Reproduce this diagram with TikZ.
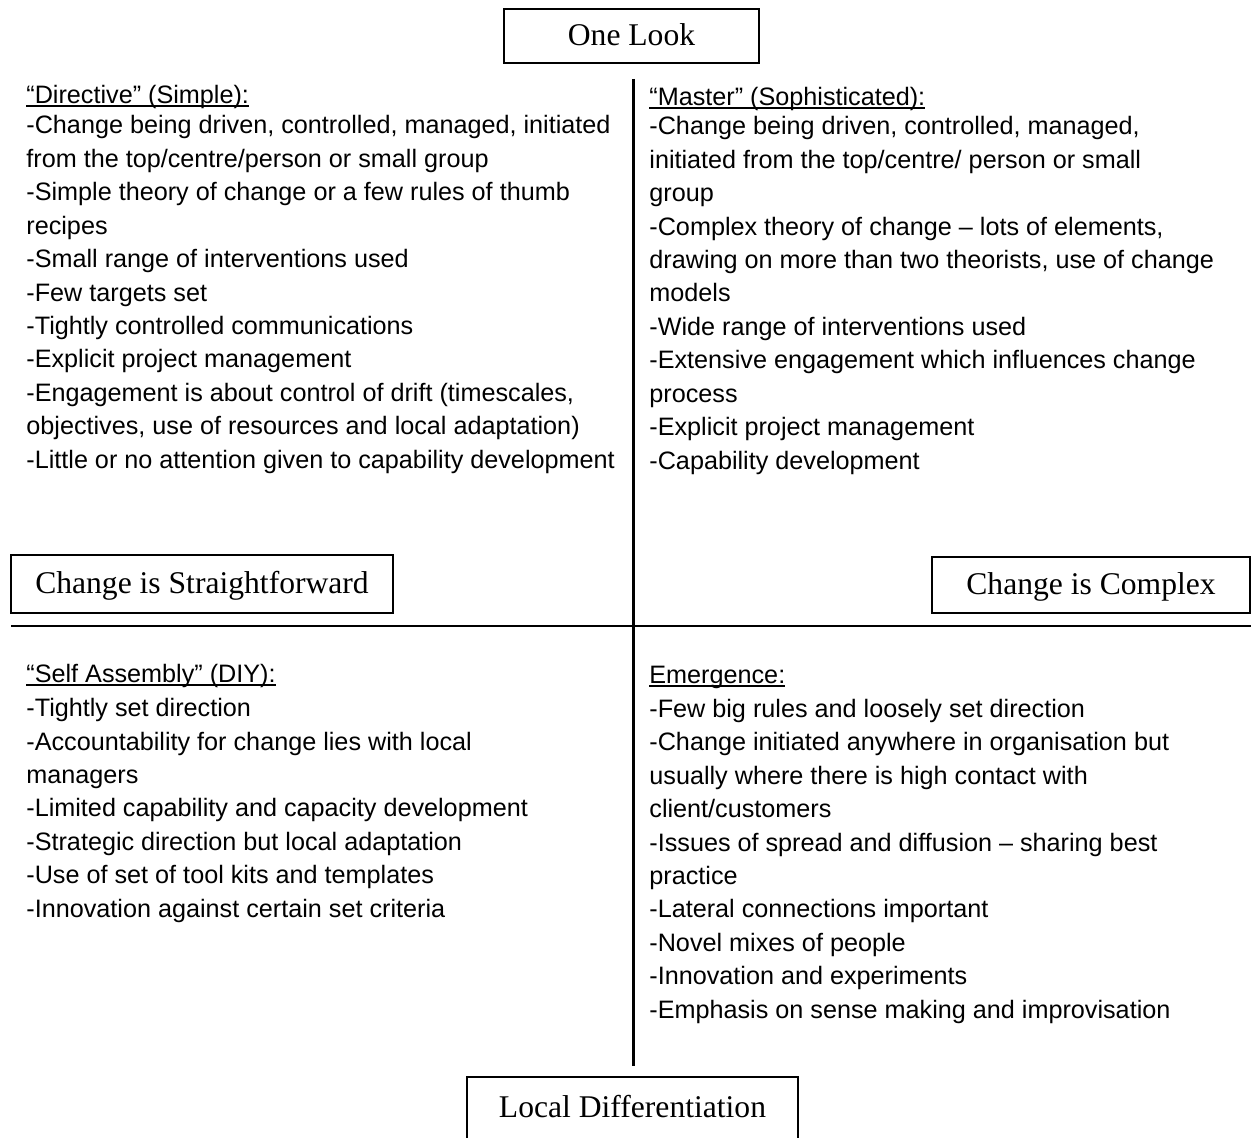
\documentclass[tikz,border=0pt]{standalone}
\usepackage{fontspec}
\setmainfont{Liberation Serif}
\newfontfamily\bodysans{Liberation Sans}
% underlined heading with a rule just below the baseline
\newcommand\ulhead[1]{\setbox0\hbox{#1}\rlap{\rule[-1.6pt]{\wd0}{1pt}}\box0}
\begin{document}
\begin{tikzpicture}[x=0.5pt,y=-0.5pt,
  titlebox/.style={draw, line width=1.3pt, inner sep=0pt,
    font=\fontsize{15.8pt}{19pt}\selectfont, text height=1.05em, text depth=0.07em},
  quadrant/.style={anchor=base west, align=left, inner sep=0pt,
    font=\bodysans\fontsize{12.6pt}{16.7pt}\selectfont},
  axis/.style={line width=1.3pt}]
\useasboundingbox (0,0) rectangle (1251,1138);
\clip (0,0) rectangle (1251,1138);

% axis titles
\node[titlebox, minimum width=127.5pt, minimum height=27pt] (look) at (631.5,36) {One Look};
\node[titlebox, minimum width=191pt, minimum height=29pt] (simple) at (202,584) {Change is Straightforward};
\node[titlebox, minimum width=159pt, minimum height=28pt] (complex) at (1091,585) {Change is Complex};
\node[titlebox, minimum width=165.5pt, minimum height=40pt, text depth=0.98em] (local) at (632.5,1117) {Local Differentiation};

% the two axes
\coordinate (vtop) at (633.5,79);
\coordinate (vbot) at (633.5,1066);
\coordinate (hleft) at (11,626);
\coordinate (hright) at (1251,626);
\draw[axis] (vtop) -- (vbot);
\draw[axis] (hleft) -- (hright);

% quadrant contents (placed by the baseline of their last line)
\node[quadrant] (directive) at (26,468) {\ulhead{“Directive” (Simple):}\\[-1.7pt]
-Change being driven, controlled, managed, initiated\\
from the top/centre/person or small group\\
-Simple theory of change or a few rules of thumb\\
recipes\\
-Small range of interventions used\\
-Few targets set\\
-Tightly controlled communications\\
-Explicit project management\\
-Engagement is about control of drift (timescales,\\
objectives, use of resources and local adaptation)\\
-Little or no attention given to capability development};

\node[quadrant] (master) at (649,469) {\ulhead{“Master” (Sophisticated):}\\[-2.2pt]
-Change being driven, controlled, managed,\\
initiated from the top/centre/ person or small\\
group\\
-Complex theory of change – lots of elements,\\
drawing on more than two theorists, use of change\\
models\\
-Wide range of interventions used\\
-Extensive engagement which influences change\\
process\\
-Explicit project management\\
-Capability development};

\node[quadrant] (assembly) at (26,917) {\ulhead{“Self Assembly” (DIY):}\\[0.3pt]
-Tightly set direction\\
-Accountability for change lies with local\\
managers\\
-Limited capability and capacity development\\
-Strategic direction but local adaptation\\
-Use of set of tool kits and templates\\
-Innovation against certain set criteria};

\node[quadrant] (emergence) at (649,1018) {\ulhead{Emergence:}\\[0.3pt]
-Few big rules and loosely set direction\\
-Change initiated anywhere in organisation but\\
usually where there is high contact with\\
client/customers\\
-Issues of spread and diffusion – sharing best\\
practice\\
-Lateral connections important\\
-Novel mixes of people\\
-Innovation and experiments\\
-Emphasis on sense making and improvisation};
\end{tikzpicture}
\end{document}
